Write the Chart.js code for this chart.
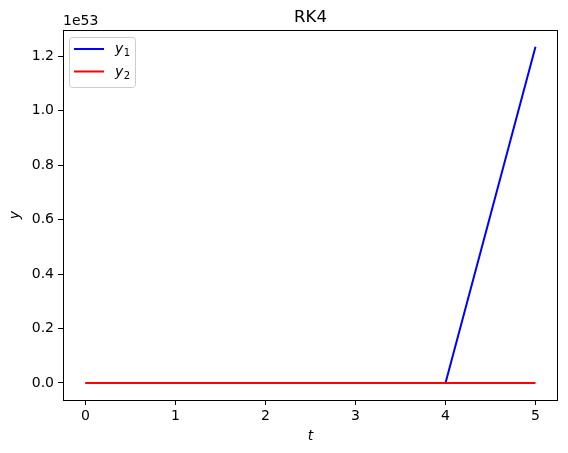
<!DOCTYPE html>
<html>
<head>
<meta charset="utf-8">
<script src="https://cdn.jsdelivr.net/npm/chart.js@4.4.0/dist/chart.umd.min.js"></script>
<style>
  html, body { margin: 0; padding: 0; background: #fff; }
  #wrap { width: 568px; height: 453px; }
</style>
</head>
<body>
<div id="wrap"><canvas id="rkChart"></canvas></div>
<script>
const tValues = [0, 1, 2, 3, 4, 5];
const y1Values = [0, 0, 0, 0, 0, 1.235e53];
const y2Values = [0, 0, 0, 0, 0, 0];
const xTicks = [0, 1, 2, 3, 4, 5];
const yTicks = [0, 0.2e53, 0.4e53, 0.6e53, 0.8e53, 1.0e53, 1.2e53];
const seriesNames = ['y', 'y'];
const seriesSubs = ['1', '2'];
const seriesColors = ['#0000ff', '#ff0000'];

const FONT = '"DejaVu Sans", sans-serif';
const ctxEl = document.getElementById('rkChart');

function toPoints(ys) {
  return tValues.map((t, i) => ({ x: t, y: ys[i] }));
}

// frame, title, offset text and legend drawn like matplotlib
const extras = {
  id: 'extras',
  afterDraw(chart) {
    const c = chart.ctx;
    const a = chart.chartArea;
    c.save();
    c.strokeStyle = '#000';
    c.lineWidth = 1;
    c.strokeRect(Math.round(a.left) + 0.5, Math.round(a.top) + 0.5,
      Math.round(a.right - a.left) - 1, Math.round(a.bottom - a.top));

    c.fillStyle = '#000';
    c.font = '16.5px ' + FONT;
    c.textAlign = 'center';
    c.textBaseline = 'alphabetic';
    c.fillText('RK4', (a.left + a.right) / 2, 22);

    c.font = '14px ' + FONT;
    c.textAlign = 'left';
    c.fillText('1e53', a.left, 25);

    // legend
    const bx = 69.5, by = 37.5, bw = 66, bh = 50;
    c.beginPath();
    c.roundRect(bx, by, bw, bh, 3);
    c.fillStyle = 'rgba(255,255,255,0.8)';
    c.fill();
    c.strokeStyle = '#cccccc';
    c.stroke();
    chart.data.datasets.forEach((ds, i) => {
      const ly = 49 + i * 22.5;
      c.strokeStyle = ds.borderColor;
      c.lineWidth = 2;
      c.beginPath();
      c.moveTo(74, ly);
      c.lineTo(104, ly);
      c.stroke();
      c.fillStyle = '#000';
      c.textBaseline = 'alphabetic';
      c.font = 'italic 14px ' + FONT;
      c.fillText(seriesNames[i], 115, ly + 4);
      const w = c.measureText(seriesNames[i]).width;
      c.font = '10px ' + FONT;
      c.fillText(seriesSubs[i], 115 + w + 0.5, ly + 7);
    });
    c.restore();
  }
};

new Chart(ctxEl, {
  type: 'line',
  data: {
    datasets: [
      { label: 'y1', data: toPoints(y1Values), borderColor: seriesColors[0], borderWidth: 2, pointRadius: 0, order: 1 },
      { label: 'y2', data: toPoints(y2Values), borderColor: seriesColors[1], borderWidth: 2, pointRadius: 0, order: 0 }
    ]
  },
  options: {
    responsive: true,
    maintainAspectRatio: false,
    animation: false,
    layout: { padding: { top: 30, right: 10, left: 0, bottom: 0 } },
    plugins: {
      legend: { display: false },
      tooltip: { enabled: false }
    },
    scales: {
      x: {
        type: 'linear',
        min: -0.25,
        max: 5.25,
        afterBuildTicks: (s) => { s.ticks = xTicks.map(v => ({ value: v })); },
        afterFit: (s) => { s.height = 53; },
        grid: { drawOnChartArea: false, drawTicks: true, tickLength: 5, color: '#000' },
        border: { display: false },
        ticks: { color: '#000', font: { family: FONT, size: 14 }, padding: 3, maxRotation: 0,
          callback: (v) => String(v) },
        title: { display: true, text: 't', color: '#000', font: { family: FONT, size: 14, style: 'italic' }, padding: { top: 0, bottom: 8 } }
      },
      y: {
        type: 'linear',
        min: -0.06245e53,
        max: 1.29675e53,
        afterBuildTicks: (s) => { s.ticks = yTicks.map(v => ({ value: v })); },
        afterFit: (s) => { s.width = 63; },
        grid: { drawOnChartArea: false, drawTicks: true, tickLength: 5, color: '#000' },
        border: { display: false },
        ticks: { color: '#000', font: { family: FONT, size: 14 }, padding: 4,
          callback: (v) => (v / 1e53).toFixed(1) },
        title: { display: true, text: 'y', color: '#000', font: { family: FONT, size: 14, style: 'italic' }, padding: { top: 7, bottom: 0 } }
      }
    }
  },
  plugins: [extras]
});
</script>
</body>
</html>
